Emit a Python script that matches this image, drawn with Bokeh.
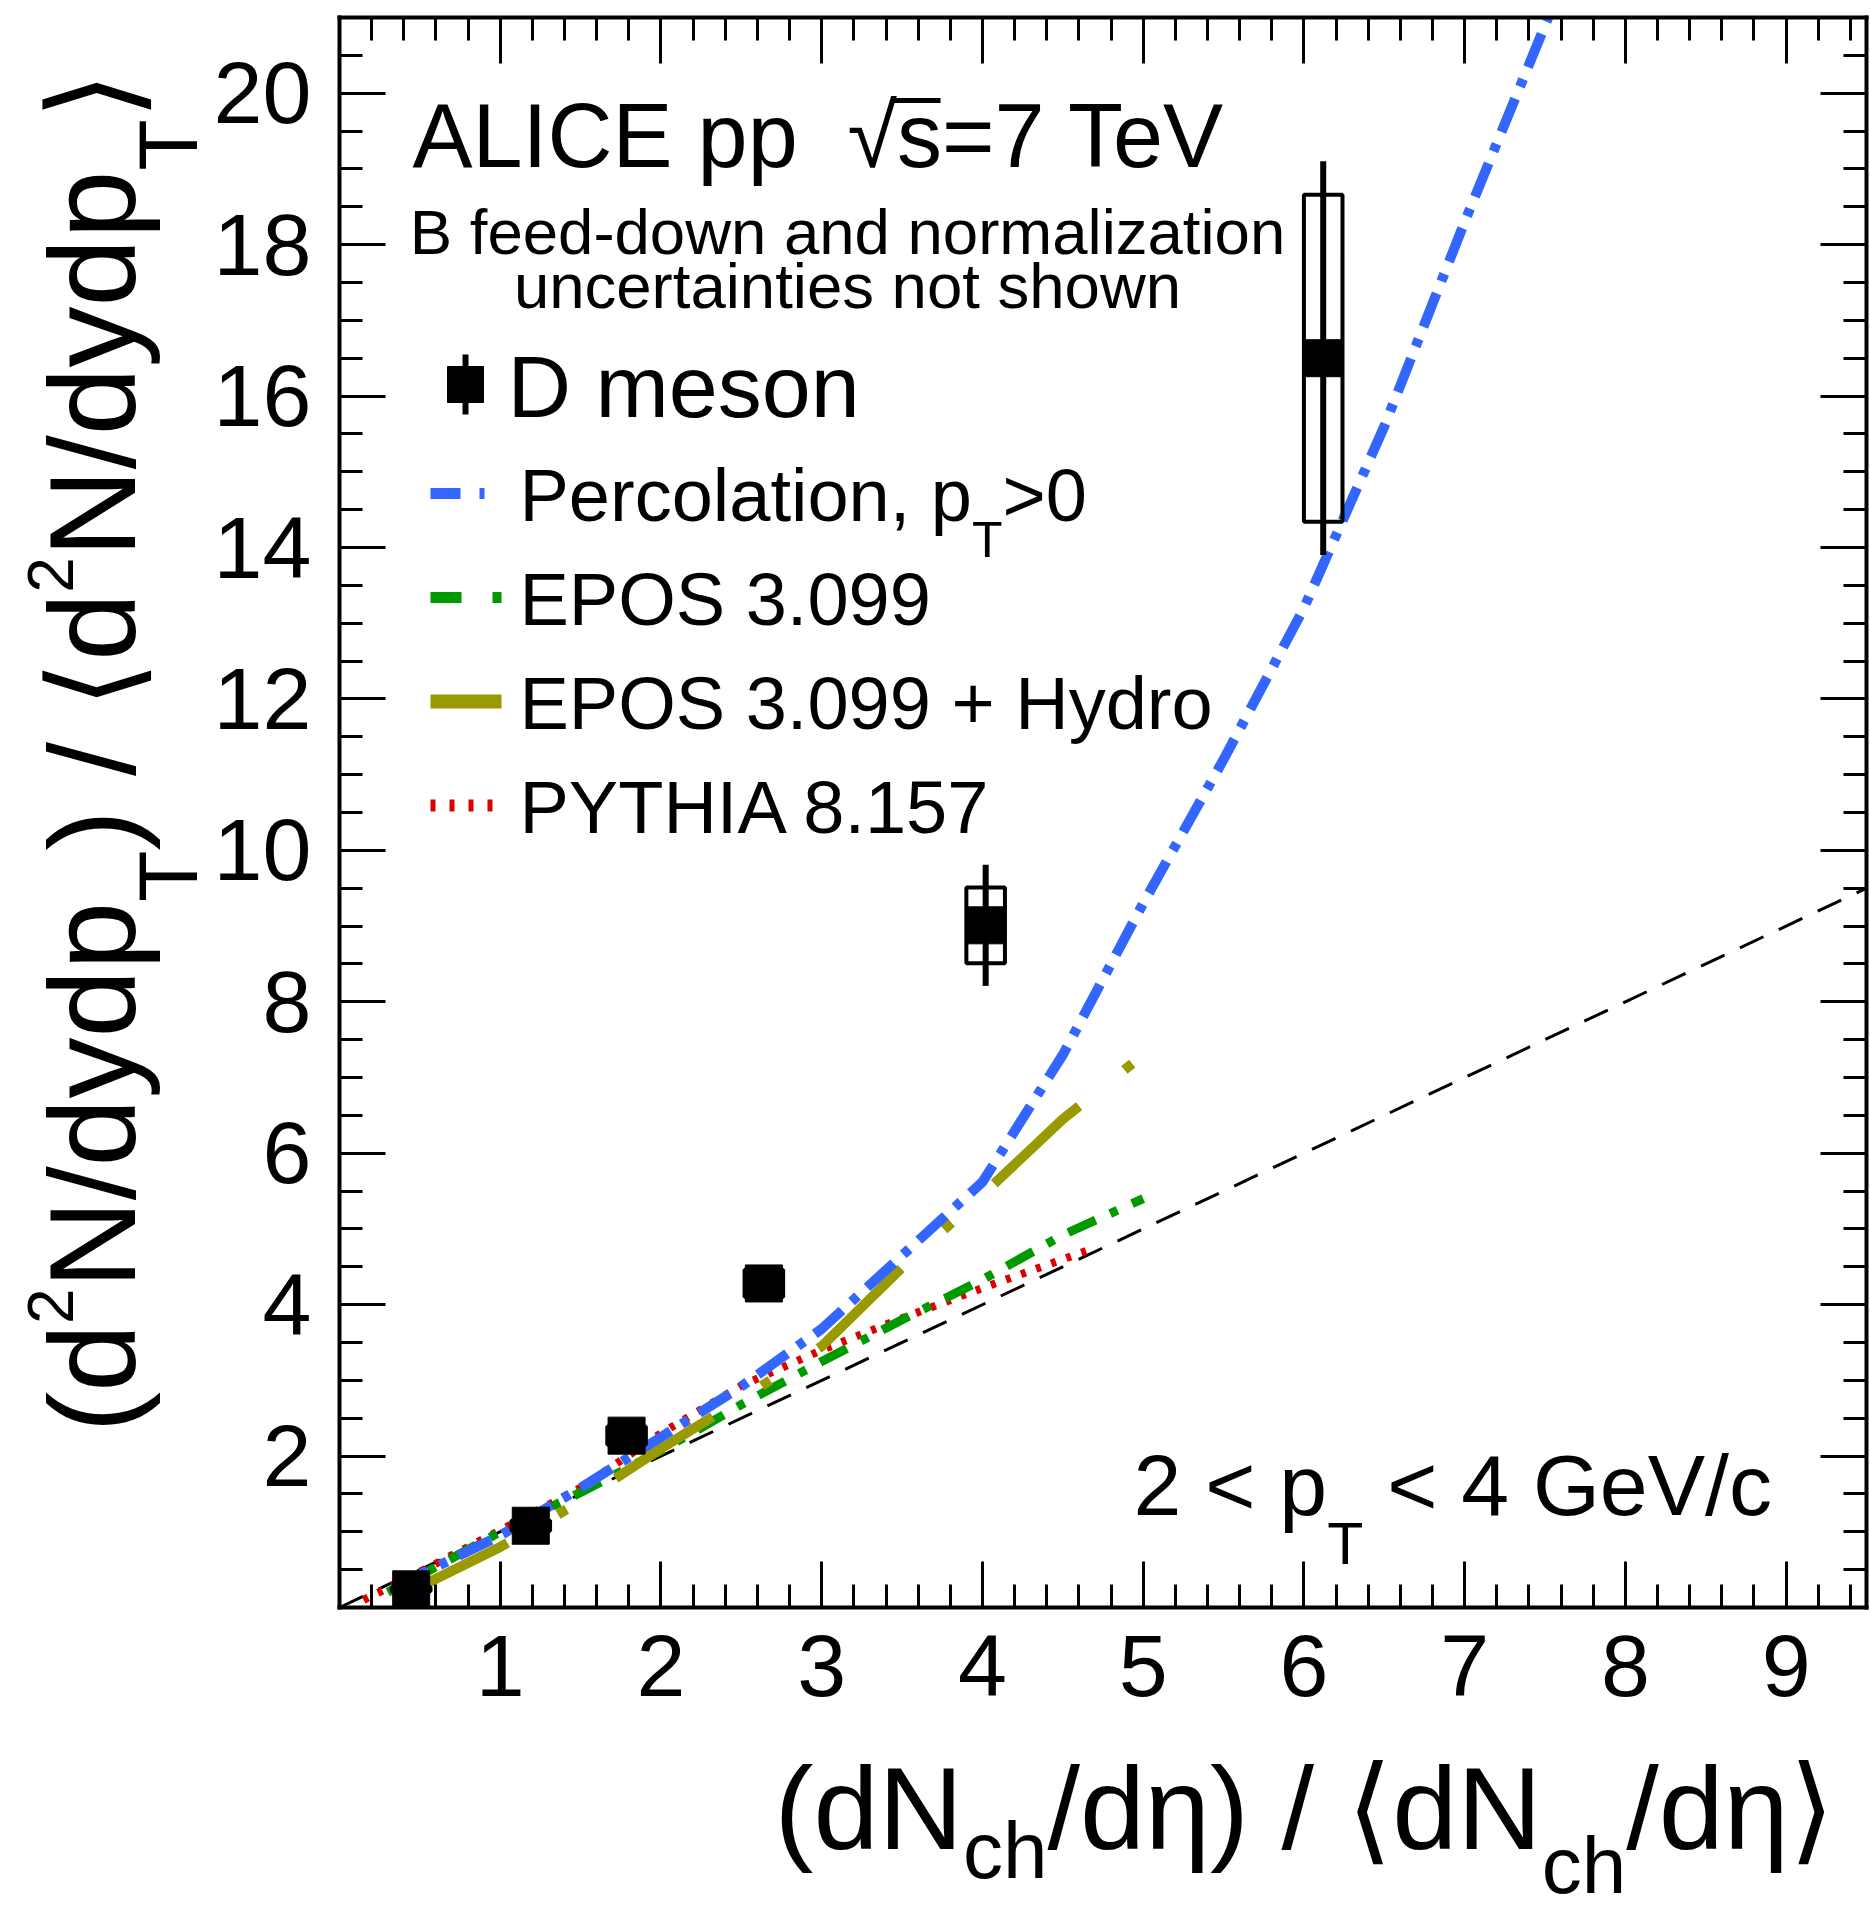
import math
from bokeh.plotting import figure
from bokeh.models import Range1d, FixedTicker, LinearAxis, Label
from bokeh.embed import file_html
from bokeh.resources import INLINE

# ---------------- data ----------------
meson_x = [0.446, 1.19, 1.786, 2.64, 4.02, 6.12]
meson_y = [0.24, 1.08, 2.27, 4.28, 9.01, 16.5]
meson_stat = [0.03, 0.07, 0.12, 0.18, 0.80, 2.6]
meson_syst = [0.03, 0.07, 0.12, 0.18, 0.50, 2.16]
syst_halfwidth = 0.12

perc_x = [0.35, 1.0, 1.5, 2.0, 2.5, 3.0, 3.5, 4.0, 4.5, 5.0, 5.5, 6.0, 6.5, 7.0, 7.52]
perc_y = [0.28, 0.95, 1.58, 2.25, 2.92, 3.68, 4.65, 5.62, 7.3, 9.3, 11.2, 13.2, 15.6, 18.3, 21.0]

epos_x = [0.3, 0.5, 1.0, 1.5, 2.0, 2.5, 3.0, 3.5, 4.0, 4.5, 5.0]
epos_y = [0.2, 0.42, 1.0, 1.52, 2.07, 2.68, 3.25, 3.8, 4.33, 4.92, 5.4]

hydro_x = [0.45, 1.0, 1.5, 2.0, 2.5, 3.0, 3.5, 4.0, 4.5, 5.0]
hydro_y = [0.22, 0.8, 1.4, 2.1, 2.75, 3.45, 4.49, 5.45, 6.45, 7.3]

pythia_x = [0.15, 0.5, 1.0, 1.5, 2.0, 2.5, 3.0, 3.5, 4.0, 4.66]
pythia_y = [0.1, 0.47, 1.02, 1.58, 2.3, 2.93, 3.4, 3.82, 4.22, 4.72]

diag_x = [0.0, 9.5]
diag_y = [0.0, 9.5]

x_ticks = [1, 2, 3, 4, 5, 6, 7, 8, 9]
y_ticks = [2, 4, 6, 8, 10, 12, 14, 16, 18, 20]
x_minor = [round(0.2 * i, 2) for i in range(1, 48) if i % 5 != 0]
y_minor = [0.5 * i for i in range(1, 43) if i % 4 != 0]

# ---------------- styling ----------------
BLUE = "#3366ff"
GREEN = "#009900"
OLIVE = "#999900"
RED = "#dd0000"
FONT = "Liberation Sans"
MATHFONT = "DejaVu Sans"

W, H = 1870, 1916
# plot box in page pixels
FX0, FX1, FY0, FY1 = 339, 1866, 17, 1607
XMIN, XMAX, YMIN, YMAX = 0.0, 9.5, 0.0, 21.0


def X(px):
    return XMIN + (px - FX0) / (FX1 - FX0) * (XMAX - XMIN)


def Y(py):
    return YMIN + (FY1 - py) / (FY1 - FY0) * (YMAX - YMIN)


# the frame covers the whole canvas; the axes are drawn at fixed locations
p = figure(width=W, height=H, x_range=Range1d(X(0), X(W)), y_range=Range1d(Y(H), Y(0)),
           output_backend="svg", toolbar_location=None,
           min_border_left=0, min_border_right=0, min_border_top=0, min_border_bottom=0)
p.grid.visible = False
p.outline_line_color = None
p.background_fill_color = "white"
p.border_fill_color = "white"

p.add_layout(LinearAxis(), "above")
p.add_layout(LinearAxis(), "right")


def style_axis(ax, ticks, minor, show, standoff, loc, bounds):
    ax.fixed_location = loc
    ax.bounds = bounds
    ax.ticker = FixedTicker(ticks=ticks, minor_ticks=minor)
    ax.major_tick_in = 46
    ax.major_tick_out = 0
    ax.minor_tick_in = 23
    ax.minor_tick_out = 0
    ax.major_tick_line_width = 3
    ax.minor_tick_line_width = 3
    ax.axis_line_width = 4
    ax.axis_line_cap = "square"
    ax.axis_label = None
    ax.major_label_text_font = FONT
    ax.major_label_text_color = "black"
    if show:
        ax.major_label_text_font_size = "88px"
        ax.major_label_standoff = standoff
    else:
        ax.major_label_text_font_size = "1px"
        ax.major_label_overrides = {t: "" for t in ticks}
        ax.major_label_standoff = 0


for ax in p.below:
    style_axis(ax, x_ticks, x_minor, True, 28, YMIN, (XMIN, XMAX))
for ax in p.left:
    style_axis(ax, y_ticks, y_minor, True, 28, XMIN, (YMIN, YMAX))
for ax in p.above:
    style_axis(ax, x_ticks, x_minor, False, 0, YMAX, (XMIN, XMAX))
for ax in p.right:
    style_axis(ax, y_ticks, y_minor, False, 0, XMAX, (YMIN, YMAX))

# ---------------- curves ----------------
p.line(diag_x, diag_y, line_color="black", line_width=3, line_dash="26 17")
p.line(pythia_x, pythia_y, line_color=RED, line_width=8, line_dash="5 11")
p.line(epos_x, epos_y, line_color=GREEN, line_width=9, line_dash="30 16 8 16")
p.line(hydro_x, hydro_y, line_color=OLIVE, line_width=10, line_dash="115 58 10 58",
       line_dash_offset=8)
p.line(perc_x, perc_y, line_color=BLUE, line_width=10, line_dash="36 13 8 13")

# ---------------- D meson data ----------------
p.quad(left=[x - syst_halfwidth for x in meson_x], right=[x + syst_halfwidth for x in meson_x],
       bottom=[y - s for y, s in zip(meson_y, meson_syst)],
       top=[y + s for y, s in zip(meson_y, meson_syst)],
       fill_color=None, line_color="black", line_width=4)
p.segment(x0=meson_x, x1=meson_x,
          y0=[y - e for y, e in zip(meson_y, meson_stat)],
          y1=[y + e for y, e in zip(meson_y, meson_stat)],
          line_color="black", line_width=6)
p.scatter(meson_x, meson_y, marker="square", size=37, fill_color="black", line_color="black")

# ---------------- text helpers ----------------
WID = {' ': 278, '(': 333, ')': 333, '/': 278, '<': 584, '>': 584, '=': 584, '+': 584,
       ',': 278, '.': 278, '-': 333, 'A': 667, 'B': 667, 'C': 722, 'D': 722, 'E': 667,
       'G': 778, 'H': 722, 'I': 278, 'L': 556, 'N': 722, 'O': 778, 'P': 667, 'S': 667,
       'T': 611, 'V': 667, 'Y': 667, 'a': 556, 'c': 500, 'd': 556, 'e': 556, 'f': 278,
       'h': 556, 'i': 222, 'l': 222, 'm': 833, 'n': 556, 'o': 556, 'p': 556, 'r': 333,
       's': 500, 't': 278, 'u': 556, 'w': 722, 'y': 500, 'z': 500, 'η': 556, '√': 549,
       '⟨': 390, '⟩': 390}
for dch in "0123456789":
    WID[dch] = 556

BASE_FIX = 0.34  # baseline correction (fraction of font size)


def text_width(s, size):
    return sum(WID.get(ch, 556) for ch in s) * size / 1000.0


def add_text(text, px, py, size, align="left", angle=0, font=FONT):
    if angle == 0:
        py = py - BASE_FIX * size
    else:
        px = px - BASE_FIX * size
    p.add_layout(Label(x=X(px), y=Y(py), text=text, text_font=font,
                       text_font_size=f"{size}px", text_align=align,
                       text_baseline="alphabetic", angle=angle, angle_units="deg",
                       text_color="black"))


def add_runs(runs, px, py, vertical=False):
    pos = py if vertical else px
    for txt, size, shift, font in runs:
        lead = len(txt) - len(txt.lstrip(' '))
        core = txt.strip(' ')
        start = pos + (-1 if vertical else 1) * text_width(' ' * lead, size)
        if core:
            if vertical:
                add_text(core, px + shift, start, size, angle=90, font=font)
            else:
                add_text(core, start, py + shift, size, font=font)
        adv = text_width(txt, size)
        pos = pos - adv if vertical else pos + adv


# axis titles
add_runs([("(d", 122, 0, FONT), ("2", 64, -62, FONT), ("N/dydp", 122, 0, FONT),
          ("T", 84, 62, FONT), (") / ", 122, 0, FONT), ("⟨", 122, 0, MATHFONT),
          ("d", 122, 0, FONT), ("2", 64, -62, FONT), ("N/dydp", 122, 0, FONT),
          ("T", 84, 62, FONT), ("⟩", 122, 0, MATHFONT)], 134, 1432, vertical=True)
add_runs([("(dN", 117, 0, FONT), ("ch", 80, 29, FONT), ("/dη)", 117, 0, FONT),
          (" / ", 117, 0, FONT), ("⟨", 117, 0, MATHFONT), ("dN", 117, 0, FONT),
          ("ch", 80, 44, FONT), ("/dη", 117, 0, FONT), ("⟩", 117, 0, MATHFONT)], 774, 1848)

# header texts
add_text("ALICE pp", 412, 166, 90)
add_text("√s=7 TeV", 847, 166, 90)
# overbar of the square root
p.segment(x0=[X(892)], x1=[X(940)], y0=[Y(100)], y1=[Y(100)], line_color="black", line_width=5)
add_text("B feed-down and normalization", 847, 253, 63.5, align="center")
add_text("uncertainties not shown", 847, 307, 63.5, align="center")

# legend
add_text("D meson", 507, 416, 88)
add_runs([("Percolation, p", 74, 0, FONT), ("T", 50, 36, FONT), (">0", 74, 0, FONT)], 519, 520)
add_text("EPOS 3.099", 519, 624, 74)
add_text("EPOS 3.099 + Hydro", 519, 728, 74)
add_text("PYTHIA 8.157", 519, 832, 74)

p.segment(x0=[X(465)], x1=[X(465)], y0=[Y(354)], y1=[Y(414)], line_color="black", line_width=6)
p.scatter([X(465)], [Y(384)], marker="square", size=36, fill_color="black", line_color="black")
p.line([X(430), X(484)], [Y(493), Y(493)], line_color=BLUE, line_width=11, line_dash="30 19 5 20")
p.line([X(430), X(501)], [Y(597), Y(597)], line_color=GREEN, line_width=11, line_dash="31 31 9 20")
p.line([X(430), X(501)], [Y(701), Y(701)], line_color=OLIVE, line_width=14)
p.line([X(430), X(492)], [Y(805), Y(805)], line_color=RED, line_width=12, line_dash="5 14")

# kinematic range
add_runs([("2 < p", 86, 0, FONT), ("T", 59, 50, FONT), (" < 4 GeV/c", 86, 0, FONT)], 1133, 1514)

open("out.html", "w").write(file_html(p, INLINE))
